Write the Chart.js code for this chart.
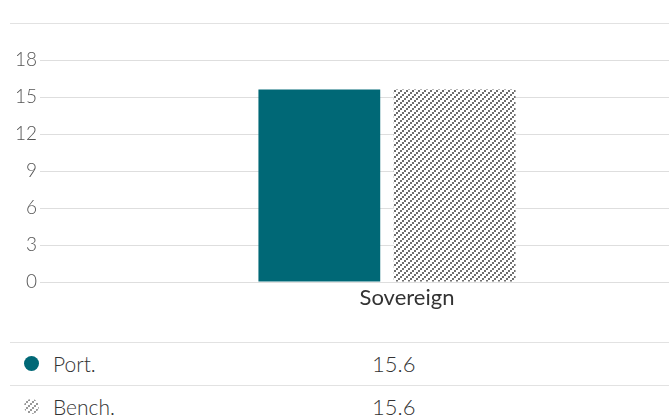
<!DOCTYPE html>
<html>
<head>
<meta charset="utf-8">
<script src="https://cdn.jsdelivr.net/npm/chart.js@4.4.0/dist/chart.umd.min.js"></script>
<style>
  body { margin: 0; background: #fff; font-family: "Source Sans Pro", "Lato", "Open Sans", sans-serif; color: #333; }
  #wrap { position: relative; width: 669px; height: 419px; overflow: hidden; }
  #topline { position: absolute; left: 10px; right: 0; top: 23px; border-top: 1px solid #e2e2e2; }
  #box { position: absolute; left: 0; top: 0; width: 740px; height: 322px; }
  #legend { position: absolute; left: 10px; right: 0; top: 342px; }
  .row { position: relative; height: 42px; border-top: 1px solid #e2e2e2; font-size: 21px; line-height: 22px; font-weight: 300; }
  .mark { position: absolute; left: 14px; top: 13px; width: 15px; height: 15px; border-radius: 50%; }
  .name { position: absolute; left: 43px; top: 10px; }
  .val { position: absolute; left: 362px; top: 10px; font-size: 22px; }
</style>
</head>
<body>
<div id="wrap">
  <div id="topline"></div>
  <div id="box"><canvas id="chart"></canvas></div>
  <div id="legend"></div>
</div>
<script>
// data
var categories = ['Sovereign'];
var seriesNames = ['Port.', 'Bench.'];
var portValues = [15.6];
var benchValues = [15.6];
var yTicks = [0, 3, 6, 9, 12, 15, 18];

var teal = '#006876';

// hatch pattern for the benchmark (2px blocks on a "/" diagonal)
function makeHatch() {
  var c = document.createElement('canvas');
  c.width = 6; c.height = 6;
  var g = c.getContext('2d');
  g.fillStyle = '#fff';
  g.fillRect(0, 0, 6, 6);
  g.fillStyle = '#6e6e6e';
  g.fillRect(4, 0, 2, 2);
  g.fillRect(2, 2, 2, 2);
  g.fillRect(0, 4, 2, 2);
  return c;
}
var hatchCanvas = makeHatch();
var ctx = document.getElementById('chart').getContext('2d');
var hatch = ctx.createPattern(hatchCanvas, 'repeat');

var fontFam = '"Source Sans Pro", "Lato", "Open Sans", sans-serif';

new Chart(ctx, {
  type: 'bar',
  data: {
    labels: categories,
    datasets: [
      { label: seriesNames[0], data: portValues, backgroundColor: teal, barPercentage: 0.9, categoryPercentage: 0.39 },
      { label: seriesNames[1], data: benchValues, backgroundColor: hatch, barPercentage: 0.9, categoryPercentage: 0.39 }
    ]
  },
  options: {
    responsive: true,
    maintainAspectRatio: false,
    animation: false,
    layout: { padding: { top: 60, left: 0, right: 6 } },
    plugins: { legend: { display: false }, tooltip: { enabled: false } },
    scales: {
      x: {
        grid: { display: false, drawTicks: false },
        border: { display: false },
        ticks: { color: '#333', font: { family: fontFam, size: 22 }, padding: 3, labelOffset: 20 },
        afterFit: function (s) { s.height = 40; }
      },
      y: {
        min: 0, max: 18,
        afterBuildTicks: function (s) { s.ticks = yTicks.map(function (v) { return { value: v }; }); },
        grid: { color: '#dedede', drawTicks: false },
        border: { display: false },
        ticks: { color: '#555', font: { family: fontFam, size: 19, weight: 300 }, padding: 3 },
        afterFit: function (s) { s.width = 40; }
      }
    }
  }
});

// table legend under the chart
var legend = document.getElementById('legend');
var allValues = [portValues, benchValues];
seriesNames.forEach(function (name, i) {
  var row = document.createElement('div');
  row.className = 'row';
  var mark = document.createElement('div');
  mark.className = 'mark';
  if (i === 0) {
    mark.style.background = teal;
  } else {
    mark.style.backgroundImage = 'url(' + hatchCanvas.toDataURL() + ')';
    mark.style.opacity = '0.7';
  }
  var n = document.createElement('div');
  n.className = 'name';
  n.textContent = name;
  var v = document.createElement('div');
  v.className = 'val';
  v.textContent = allValues[i][0].toFixed(1);
  row.appendChild(mark); row.appendChild(n); row.appendChild(v);
  legend.appendChild(row);
});
</script>
</body>
</html>
